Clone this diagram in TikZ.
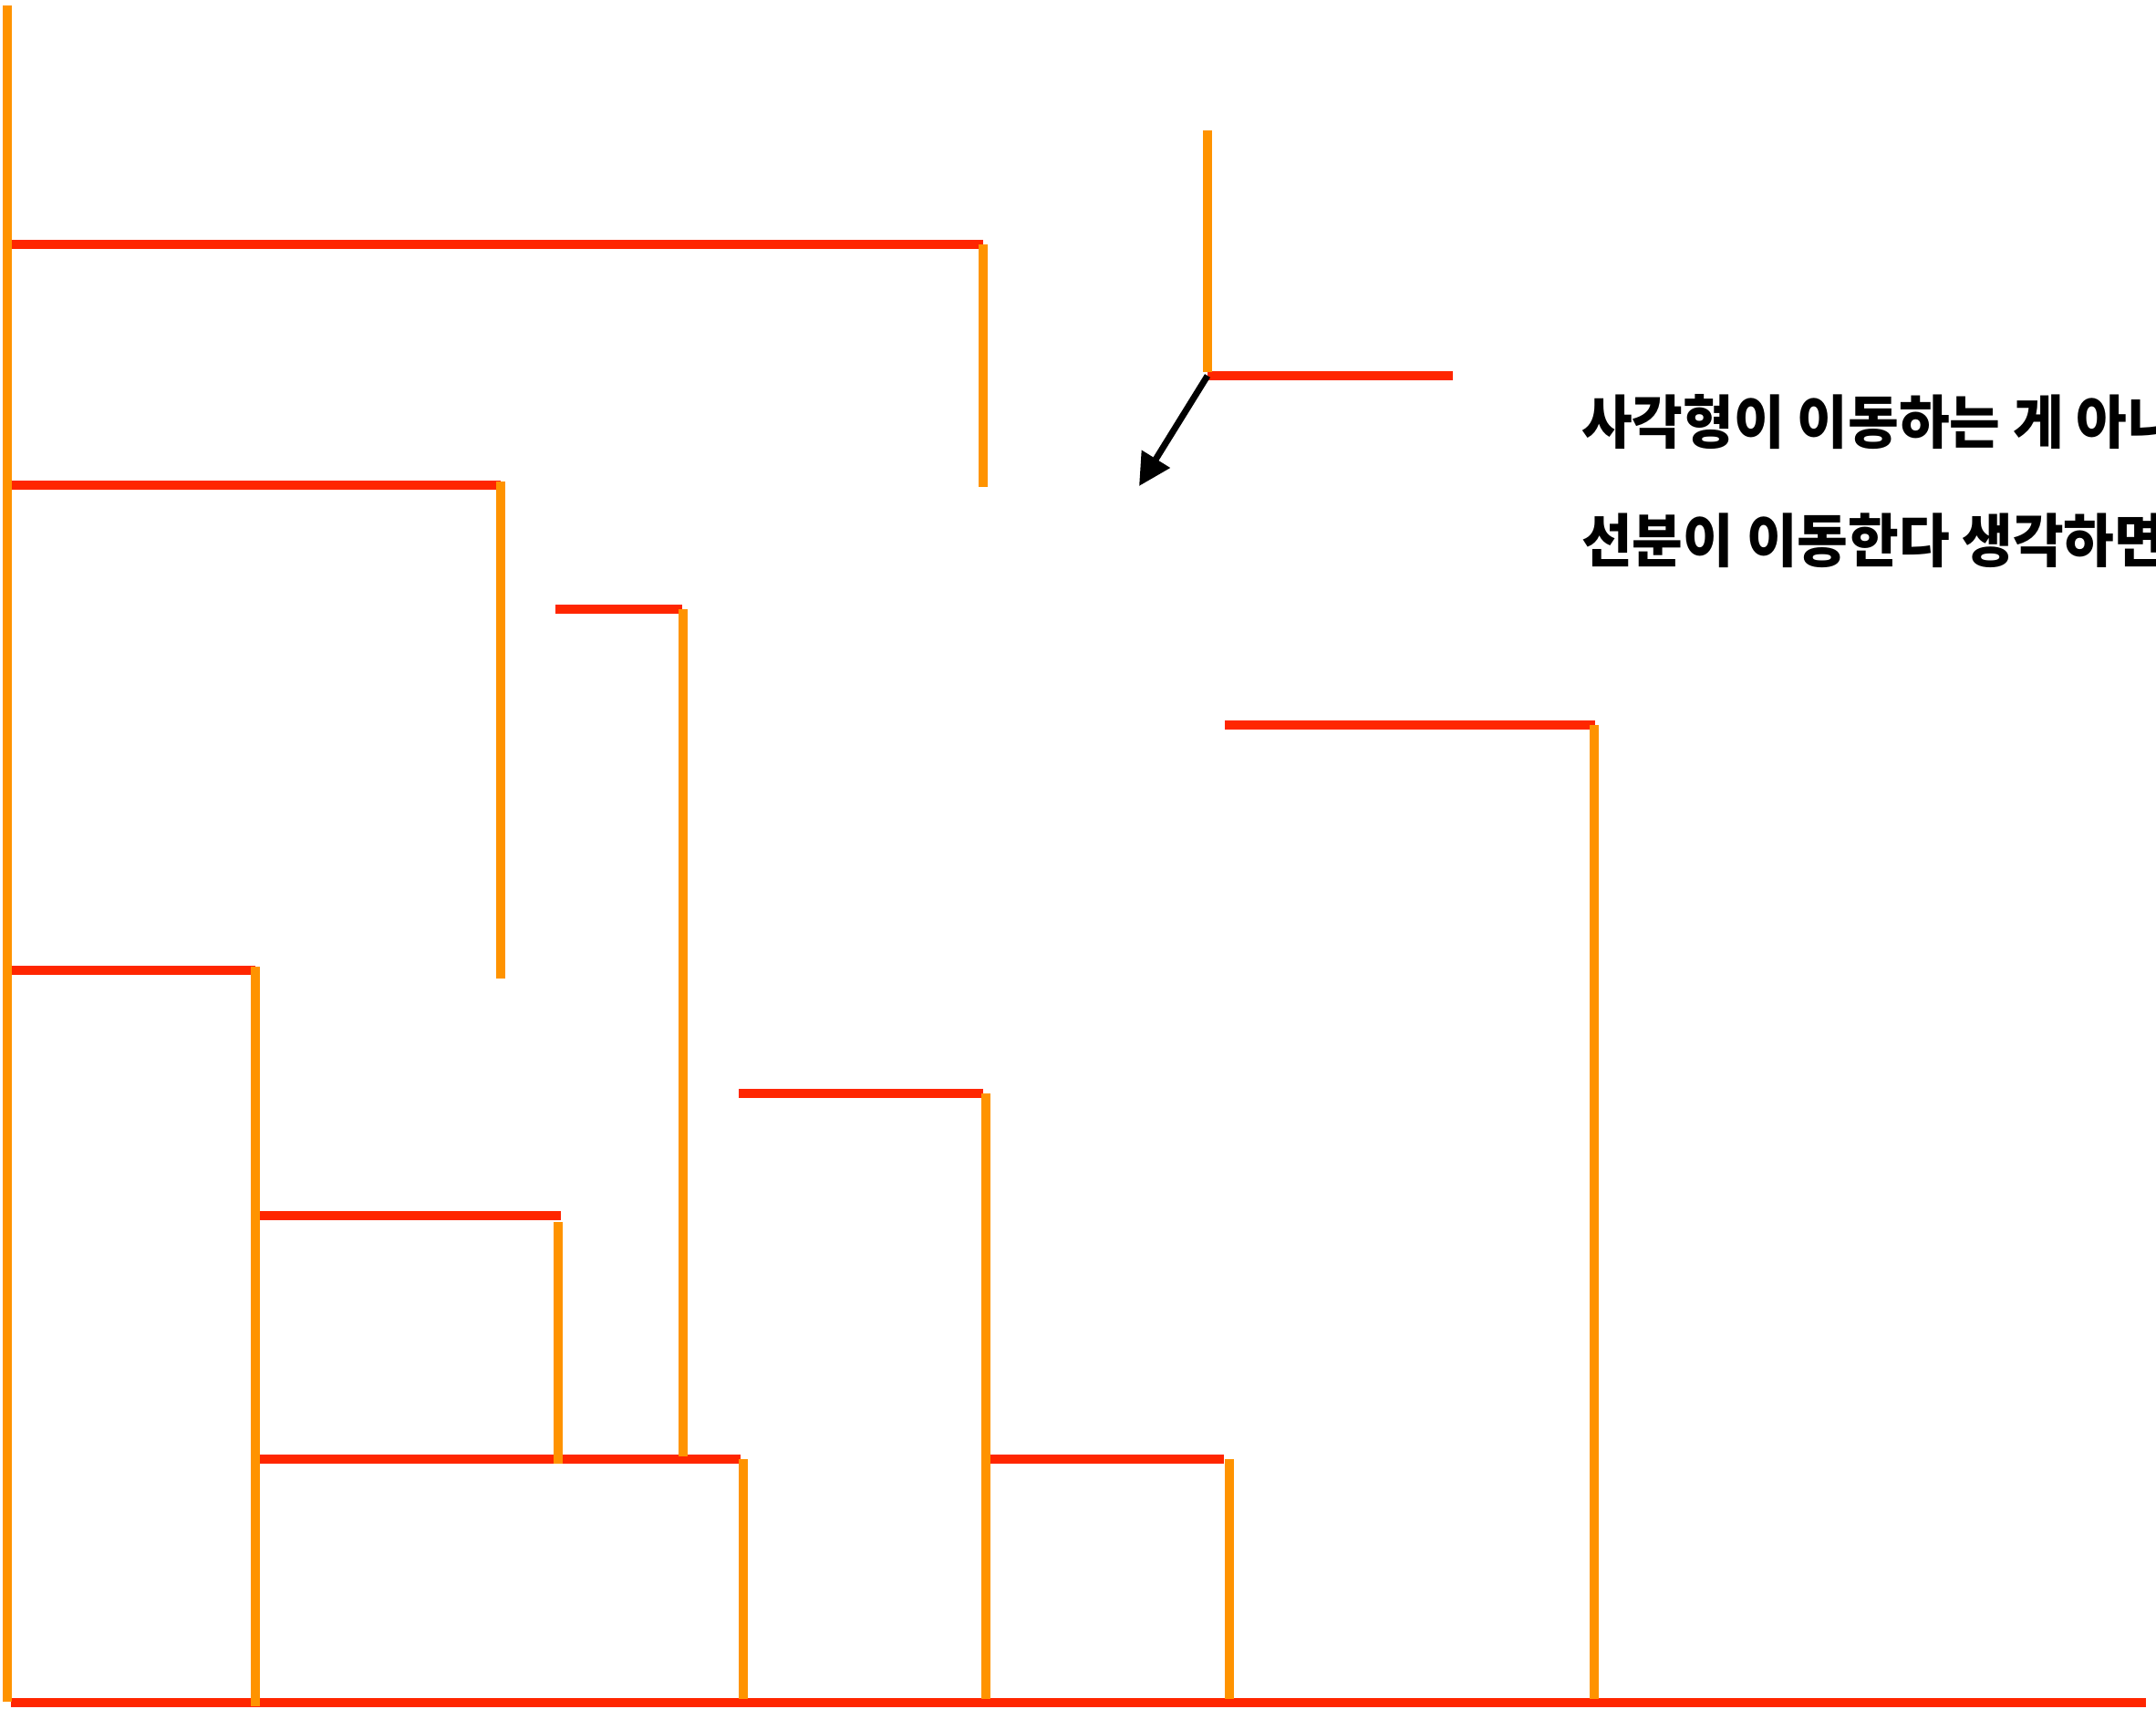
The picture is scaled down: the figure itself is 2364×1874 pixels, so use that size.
\documentclass[tikz,border=0pt]{standalone}
\usepackage{fontspec}
\newfontfamily\krfont{Noto Sans CJK KR}
\usetikzlibrary{arrows.meta}
\definecolor{seg}{HTML}{FF2600}
\definecolor{mov}{HTML}{FF9300}
\tikzset{
  redseg/.style={draw=seg, line width=10.5pt},
  orseg/.style={draw=mov, line width=10.5pt},
  movearrow/.style={draw=black, line width=7pt, -{Triangle[length=35pt,width=35pt]}},
  label/.style={inner sep=0pt, anchor=west, font=\krfont\bfseries\fontsize{60.5}{70}\selectfont, yscale=1.05}
}
\begin{document}
\begin{tikzpicture}[x=1pt,y=-1pt]
\useasboundingbox[fill=white] (0,0) rectangle (2364,1874);
% red horizontal segments
\draw[redseg] (13,268) -- (1078,268);
\draw[redseg] (13,532) -- (549,532);
\draw[redseg] (609,668) -- (748,668);
\draw[redseg] (13,1064) -- (280,1064);
\draw[redseg] (283,1333) -- (615,1333);
\draw[redseg] (283,1600) -- (812,1600);
\draw[redseg] (810,1199) -- (1078,1199);
\draw[redseg] (1086,1600) -- (1342,1600);
\draw[redseg] (1343,795) -- (1749,795);
\draw[redseg] (1324,412) -- (1593,412);
\draw[redseg] (12,1867) -- (2353,1867);
% orange vertical segments
\draw[orseg] (8,6) -- (8,1866);
\draw[orseg] (1078,268) -- (1078,534);
\draw[orseg] (549,528) -- (549,1073);
\draw[orseg] (749,668) -- (749,1597);
\draw[orseg] (280,1060) -- (280,1871);
\draw[orseg] (612,1340) -- (612,1605);
\draw[orseg] (815,1600) -- (815,1863);
\draw[orseg] (1081,1199) -- (1081,1863);
\draw[orseg] (1348,1600) -- (1348,1863);
\draw[orseg] (1748,795) -- (1748,1863);
\draw[orseg] (1324,143) -- (1324,408);
% arrow
\coordinate (corner) at (1324,412);
\coordinate (target) at (1249,533);
\draw[movearrow] (corner) -- (target);
% text
\node[label] (t1) at (1734,463) {사각형이 이동하는 게 아니};
\node[label] (t2) at (1734,593) {선분이 이동한다 생각하면};
\end{tikzpicture}
\end{document}
